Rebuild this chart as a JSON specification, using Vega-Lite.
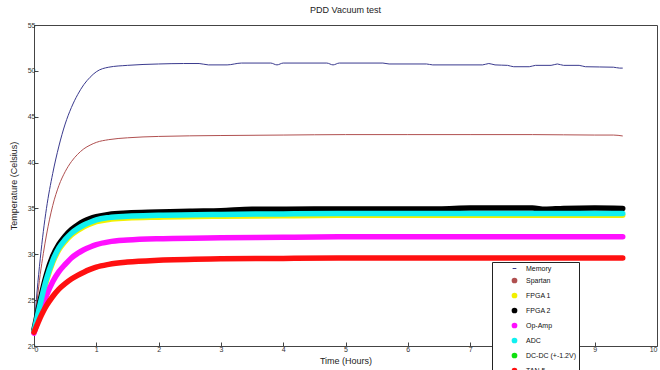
{
 "$schema": "https://vega.github.io/schema/vega-lite/v6.json",
 "width": 623, "height": 321,
 "autosize": {"type": "none"},
 "padding": {"left": 34, "top": 25, "right": 3, "bottom": 24},
 "background": "white",
 "title": {"text": "PDD Vacuum test", "fontSize": 9, "fontWeight": "normal", "font": "Liberation Sans", "color": "#222", "offset": 6},
 "config": {
  "view": {"stroke": "#444", "strokeWidth": 1},
  "axis": {"grid": false, "domain": false, "ticks": true, "tickColor": "#444", "tickSize": -4, "labelPadding": 3, "labelFont": "Liberation Sans", "labelFontSize": 7, "labelColor": "#333", "titleFont": "Liberation Sans", "titleFontSize": 9, "titleFontWeight": "normal", "titleColor": "#222"}
 },
 "data": {"values": [
  {"s":"Memory","t":0,"v":21.8},{"s":"Memory","t":0.05,"v":26.0},{"s":"Memory","t":0.1,"v":29.5},{"s":"Memory","t":0.15,"v":32.5},{"s":"Memory","t":0.2,"v":35.0},{"s":"Memory","t":0.3,"v":38.8},{"s":"Memory","t":0.4,"v":41.8},{"s":"Memory","t":0.5,"v":44.2},{"s":"Memory","t":0.6,"v":46.0},{"s":"Memory","t":0.7,"v":47.4},{"s":"Memory","t":0.8,"v":48.5},{"s":"Memory","t":0.9,"v":49.3},{"s":"Memory","t":1.0,"v":49.9},{"s":"Memory","t":1.2,"v":50.4},{"s":"Memory","t":1.5,"v":50.6},{"s":"Memory","t":2.0,"v":50.75},{"s":"Memory","t":2.4,"v":50.8},{"s":"Memory","t":2.65,"v":50.8},{"s":"Memory","t":2.8,"v":50.65},{"s":"Memory","t":3.1,"v":50.65},{"s":"Memory","t":3.33,"v":50.85},{"s":"Memory","t":3.8,"v":50.85},{"s":"Memory","t":3.9,"v":50.65},{"s":"Memory","t":4.0,"v":50.85},{"s":"Memory","t":4.7,"v":50.85},{"s":"Memory","t":4.8,"v":50.65},{"s":"Memory","t":4.9,"v":50.85},{"s":"Memory","t":5.6,"v":50.85},{"s":"Memory","t":5.7,"v":50.75},{"s":"Memory","t":6.3,"v":50.75},{"s":"Memory","t":6.4,"v":50.65},{"s":"Memory","t":7.2,"v":50.65},{"s":"Memory","t":7.3,"v":50.8},{"s":"Memory","t":7.4,"v":50.65},{"s":"Memory","t":7.6,"v":50.6},{"s":"Memory","t":7.7,"v":50.45},{"s":"Memory","t":7.95,"v":50.45},{"s":"Memory","t":8.05,"v":50.6},{"s":"Memory","t":8.3,"v":50.6},{"s":"Memory","t":8.4,"v":50.75},{"s":"Memory","t":8.5,"v":50.6},{"s":"Memory","t":8.75,"v":50.6},{"s":"Memory","t":8.85,"v":50.45},{"s":"Memory","t":9.3,"v":50.4},{"s":"Memory","t":9.4,"v":50.3},{"s":"Memory","t":9.45,"v":50.3},
  {"s":"Spartan","t":0,"v":21.8},{"s":"Spartan","t":0.05,"v":25.0},{"s":"Spartan","t":0.1,"v":27.8},{"s":"Spartan","t":0.15,"v":30.1},{"s":"Spartan","t":0.2,"v":32.1},{"s":"Spartan","t":0.3,"v":35.3},{"s":"Spartan","t":0.4,"v":37.5},{"s":"Spartan","t":0.5,"v":39.0},{"s":"Spartan","t":0.6,"v":40.1},{"s":"Spartan","t":0.7,"v":40.9},{"s":"Spartan","t":0.8,"v":41.5},{"s":"Spartan","t":0.9,"v":41.9},{"s":"Spartan","t":1.0,"v":42.2},{"s":"Spartan","t":1.2,"v":42.5},{"s":"Spartan","t":1.5,"v":42.7},{"s":"Spartan","t":2.0,"v":42.85},{"s":"Spartan","t":3.0,"v":42.95},{"s":"Spartan","t":4.0,"v":43.0},{"s":"Spartan","t":5.0,"v":43.05},{"s":"Spartan","t":6.0,"v":43.05},{"s":"Spartan","t":7.0,"v":43.05},{"s":"Spartan","t":8.0,"v":43.05},{"s":"Spartan","t":9.0,"v":43.0},{"s":"Spartan","t":9.3,"v":43.0},{"s":"Spartan","t":9.45,"v":42.9},
  {"s":"FPGA 1","t":0,"v":21.6},{"s":"FPGA 1","t":0.05,"v":23.0},{"s":"FPGA 1","t":0.1,"v":24.4},{"s":"FPGA 1","t":0.15,"v":25.8},{"s":"FPGA 1","t":0.2,"v":27.1},{"s":"FPGA 1","t":0.3,"v":29.1},{"s":"FPGA 1","t":0.4,"v":30.5},{"s":"FPGA 1","t":0.5,"v":31.4},{"s":"FPGA 1","t":0.6,"v":32.1},{"s":"FPGA 1","t":0.7,"v":32.6},{"s":"FPGA 1","t":0.8,"v":33.0},{"s":"FPGA 1","t":0.9,"v":33.3},{"s":"FPGA 1","t":1.0,"v":33.55},{"s":"FPGA 1","t":1.2,"v":33.8},{"s":"FPGA 1","t":1.5,"v":33.95},{"s":"FPGA 1","t":2.0,"v":34.05},{"s":"FPGA 1","t":3.0,"v":34.15},{"s":"FPGA 1","t":4.0,"v":34.2},{"s":"FPGA 1","t":5.0,"v":34.25},{"s":"FPGA 1","t":6.0,"v":34.25},{"s":"FPGA 1","t":7.0,"v":34.25},{"s":"FPGA 1","t":8.0,"v":34.25},{"s":"FPGA 1","t":9.0,"v":34.25},{"s":"FPGA 1","t":9.45,"v":34.25},
  {"s":"FPGA 2","t":0,"v":21.8},{"s":"FPGA 2","t":0.05,"v":23.4},{"s":"FPGA 2","t":0.1,"v":25.0},{"s":"FPGA 2","t":0.15,"v":26.5},{"s":"FPGA 2","t":0.2,"v":27.8},{"s":"FPGA 2","t":0.3,"v":29.8},{"s":"FPGA 2","t":0.4,"v":31.1},{"s":"FPGA 2","t":0.5,"v":32.0},{"s":"FPGA 2","t":0.6,"v":32.7},{"s":"FPGA 2","t":0.7,"v":33.2},{"s":"FPGA 2","t":0.8,"v":33.6},{"s":"FPGA 2","t":0.9,"v":33.9},{"s":"FPGA 2","t":1.0,"v":34.1},{"s":"FPGA 2","t":1.2,"v":34.35},{"s":"FPGA 2","t":1.5,"v":34.5},{"s":"FPGA 2","t":2.0,"v":34.6},{"s":"FPGA 2","t":2.5,"v":34.7},{"s":"FPGA 2","t":3.0,"v":34.75},{"s":"FPGA 2","t":3.5,"v":34.9},{"s":"FPGA 2","t":4.0,"v":34.9},{"s":"FPGA 2","t":5.0,"v":34.95},{"s":"FPGA 2","t":6.0,"v":34.95},{"s":"FPGA 2","t":6.5,"v":34.95},{"s":"FPGA 2","t":7.0,"v":35.05},{"s":"FPGA 2","t":8.0,"v":35.05},{"s":"FPGA 2","t":8.2,"v":34.9},{"s":"FPGA 2","t":8.5,"v":35.0},{"s":"FPGA 2","t":9.0,"v":35.05},{"s":"FPGA 2","t":9.45,"v":35.0},
  {"s":"Op-Amp","t":0,"v":21.4},{"s":"Op-Amp","t":0.05,"v":22.5},{"s":"Op-Amp","t":0.1,"v":23.6},{"s":"Op-Amp","t":0.15,"v":24.6},{"s":"Op-Amp","t":0.2,"v":25.5},{"s":"Op-Amp","t":0.3,"v":27.0},{"s":"Op-Amp","t":0.4,"v":28.1},{"s":"Op-Amp","t":0.5,"v":28.9},{"s":"Op-Amp","t":0.6,"v":29.6},{"s":"Op-Amp","t":0.7,"v":30.1},{"s":"Op-Amp","t":0.8,"v":30.5},{"s":"Op-Amp","t":0.9,"v":30.8},{"s":"Op-Amp","t":1.0,"v":31.05},{"s":"Op-Amp","t":1.2,"v":31.35},{"s":"Op-Amp","t":1.5,"v":31.55},{"s":"Op-Amp","t":2.0,"v":31.7},{"s":"Op-Amp","t":3.0,"v":31.8},{"s":"Op-Amp","t":4.0,"v":31.85},{"s":"Op-Amp","t":5.0,"v":31.9},{"s":"Op-Amp","t":6.0,"v":31.9},{"s":"Op-Amp","t":7.0,"v":31.9},{"s":"Op-Amp","t":8.0,"v":31.9},{"s":"Op-Amp","t":9.0,"v":31.9},{"s":"Op-Amp","t":9.45,"v":31.9},
  {"s":"ADC","t":0,"v":21.6},{"s":"ADC","t":0.05,"v":23.1},{"s":"ADC","t":0.1,"v":24.6},{"s":"ADC","t":0.15,"v":26.0},{"s":"ADC","t":0.2,"v":27.3},{"s":"ADC","t":0.3,"v":29.3},{"s":"ADC","t":0.4,"v":30.7},{"s":"ADC","t":0.5,"v":31.6},{"s":"ADC","t":0.6,"v":32.3},{"s":"ADC","t":0.7,"v":32.8},{"s":"ADC","t":0.8,"v":33.2},{"s":"ADC","t":0.9,"v":33.5},{"s":"ADC","t":1.0,"v":33.75},{"s":"ADC","t":1.2,"v":34.0},{"s":"ADC","t":1.5,"v":34.15},{"s":"ADC","t":2.0,"v":34.25},{"s":"ADC","t":3.0,"v":34.35},{"s":"ADC","t":4.0,"v":34.4},{"s":"ADC","t":5.0,"v":34.45},{"s":"ADC","t":6.0,"v":34.45},{"s":"ADC","t":7.0,"v":34.45},{"s":"ADC","t":8.0,"v":34.45},{"s":"ADC","t":9.0,"v":34.45},{"s":"ADC","t":9.45,"v":34.45},
  {"s":"TAN 5","t":0,"v":21.5},{"s":"TAN 5","t":0.05,"v":22.3},{"s":"TAN 5","t":0.1,"v":23.1},{"s":"TAN 5","t":0.15,"v":23.8},{"s":"TAN 5","t":0.2,"v":24.4},{"s":"TAN 5","t":0.3,"v":25.4},{"s":"TAN 5","t":0.4,"v":26.2},{"s":"TAN 5","t":0.5,"v":26.8},{"s":"TAN 5","t":0.6,"v":27.3},{"s":"TAN 5","t":0.7,"v":27.7},{"s":"TAN 5","t":0.8,"v":28.05},{"s":"TAN 5","t":0.9,"v":28.35},{"s":"TAN 5","t":1.0,"v":28.6},{"s":"TAN 5","t":1.2,"v":28.9},{"s":"TAN 5","t":1.5,"v":29.15},{"s":"TAN 5","t":2.0,"v":29.35},{"s":"TAN 5","t":3.0,"v":29.5},{"s":"TAN 5","t":4.0,"v":29.55},{"s":"TAN 5","t":5.0,"v":29.6},{"s":"TAN 5","t":6.0,"v":29.6},{"s":"TAN 5","t":7.0,"v":29.6},{"s":"TAN 5","t":8.0,"v":29.6},{"s":"TAN 5","t":9.0,"v":29.6},{"s":"TAN 5","t":9.45,"v":29.6}
 ]},
 "layer": [
  {
   "transform": [{"filter": "datum.s === 'Memory' || datum.s === 'Spartan'"}],
   "mark": {"type": "line", "interpolate": "monotone", "strokeWidth": 1},
   "encoding": {
    "x": {"field": "t", "type": "quantitative", "scale": {"domain": [0, 10], "nice": false}, "axis": {"title": "Time (Hours)", "values": [0,1,2,3,4,5,6,7,8,9,10], "format": "d", "titlePadding": 4}},
    "y": {"field": "v", "type": "quantitative", "scale": {"domain": [20, 55], "nice": false, "zero": false}, "axis": {"title": "Temperature (Celsius)", "values": [20,25,30,35,40,45,50,55], "format": "d", "titlePadding": 9}},
    "color": {"field": "s", "type": "nominal", "sort": null,
     "scale": {"domain": ["Memory","Spartan","FPGA 1","FPGA 2","Op-Amp","ADC","DC-DC (+-1.2V)","TAN 5"], "range": ["#3a3a8e","#b05050","#f2f000","#000000","#ff10ff","#10f0f0","#10e010","#ff1010"]},
     "legend": {"title": null, "orient": "none", "legendX": 458, "legendY": 237, "strokeColor": "#222", "fillColor": "white", "padding": 3, "labelFont": "Liberation Sans", "labelFontSize": 7, "labelColor": "#111", "symbolType": "circle", "symbolSize": 14, "symbolStrokeWidth": 2, "symbolOffset": 16, "labelOffset": 8, "rowPadding": 2,
      "encode": {
       "symbols": {"update": {
        "shape": {"signal": "datum.value === 'Memory' ? 'stroke' : 'circle'"},
        "strokeWidth": {"signal": "datum.value === 'Memory' ? 1 : 2"},
        "fill": {"signal": "scale('color', datum.value)"}}}}}}
   }
  },
  {
   "transform": [{"filter": "datum.s !== 'Memory' && datum.s !== 'Spartan'"}],
   "mark": {"type": "line", "interpolate": "monotone", "strokeWidth": 5.5, "strokeCap": "round", "strokeJoin": "round"},
   "encoding": {
    "x": {"field": "t", "type": "quantitative"},
    "y": {"field": "v", "type": "quantitative"},
    "color": {"field": "s", "type": "nominal", "sort": null, "legend": null}
   }
  }
 ]
}
